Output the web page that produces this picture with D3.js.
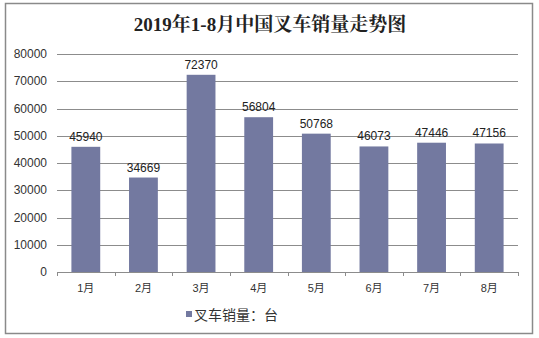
<!DOCTYPE html>
<html><head><meta charset="utf-8">
<script src="https://cdn.jsdelivr.net/npm/d3@7"></script>
<style>body{margin:0;background:#fff}svg{display:block}</style>
</head><body>
<script>
const categories = ["1月","2月","3月","4月","5月","6月","7月","8月"];
const sales = [45940,34669,72370,56804,50768,46073,47446,47156];
const yTicks = [0,10000,20000,30000,40000,50000,60000,70000,80000];
const title = "2019年1-8月中国叉车销量走势图";
const legendLabel = "叉车销量：台";

const W=539,H=338;
const svg=d3.select("body").append("svg").attr("width",W).attr("height",H);
svg.append("rect").attr("x",5.5).attr("y",3.5).attr("width",527).attr("height",330)
  .attr("fill","#fff").attr("stroke","#8a8a8a").attr("stroke-width",1.5);

svg.append("text").attr("x",270).attr("y",31).attr("text-anchor","middle")
  .attr("font-family","'Liberation Serif','Noto Serif CJK SC','Noto Sans CJK SC',serif")
  .attr("font-weight","bold").attr("font-size",19).attr("fill","#222").text(title);

const x=d3.scaleBand().domain(categories).range([57,518]).paddingInner(0.5).paddingOuter(0.25);
const y=d3.scaleLinear().domain([0,80000]).range([272,54]);

// gridlines
svg.append("g").selectAll("line").data(yTicks.filter(d=>d>0)).join("line")
  .attr("x1",57).attr("x2",518).attr("y1",d=>Math.round(y(d))+0.5).attr("y2",d=>Math.round(y(d))+0.5)
  .attr("stroke","#8c8c8c").attr("stroke-width",1);

// y labels
svg.append("g").selectAll("text").data(yTicks).join("text")
  .attr("x",47).attr("y",d=>y(d)+4).attr("text-anchor","end")
  .attr("font-family","'Liberation Sans',Arial,sans-serif").attr("font-size",12).attr("fill","#333")
  .text(d=>d);

// bars
svg.append("g").selectAll("rect").data(sales).join("rect")
  .attr("x",(d,i)=>x(categories[i])).attr("width",x.bandwidth())
  .attr("y",d=>y(d)).attr("height",d=>y(0)-y(d)).attr("fill","#7379a0");

// value labels
svg.append("g").selectAll("text").data(sales).join("text")
  .attr("x",(d,i)=>x(categories[i])+x.bandwidth()/2).attr("y",d=>y(d)-6).attr("text-anchor","middle")
  .attr("font-family","'Liberation Sans',Arial,sans-serif").attr("font-size",12).attr("fill","#222")
  .text(d=>d);

// x axis
const xa=svg.append("g").attr("transform","translate(0,272)");
xa.append("line").attr("x1",57).attr("x2",518).attr("y1",0.5).attr("y2",0.5).attr("stroke","#8c8c8c");
const step=x.step();
const edges=d3.range(categories.length+1).map(i=>57+i*(461/categories.length));
xa.selectAll("line.t").data(edges).join("line").attr("class","t")
  .attr("x1",d=>Math.round(d)+0.5).attr("x2",d=>Math.round(d)+0.5).attr("y1",0).attr("y2",4).attr("stroke","#8c8c8c");
xa.selectAll("text").data(categories).join("text")
  .attr("x",d=>x(d)+x.bandwidth()/2).attr("y",20).attr("text-anchor","middle")
  .attr("font-family","'Liberation Sans','Noto Sans CJK SC',sans-serif").attr("font-size",11).attr("fill","#333")
  .text(d=>d);

// legend
svg.append("rect").attr("x",186).attr("y",311).attr("width",6).attr("height",6).attr("fill","#7379a0");
svg.append("text").attr("x",194).attr("y",320)
  .attr("font-family","'Noto Sans CJK SC',sans-serif").attr("font-size",14).attr("fill","#333").text(legendLabel);
</script>
</body></html>
